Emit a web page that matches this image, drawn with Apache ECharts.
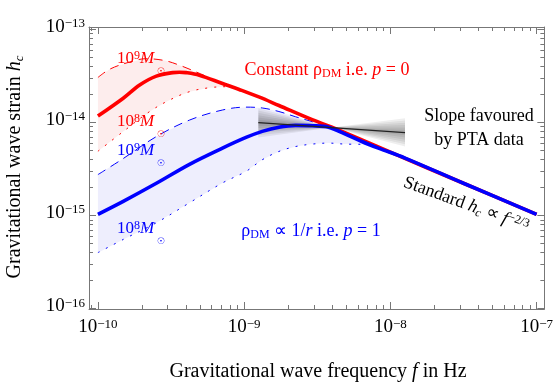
<!DOCTYPE html>
<html>
<head>
<meta charset="utf-8">
<script src="https://cdn.jsdelivr.net/npm/echarts@6/dist/echarts.min.js"></script>
<style>
  html, body { margin: 0; padding: 0; background: #fff; }
  #chart { width: 556px; height: 389px; }
</style>
</head>
<body>
<div id="chart"></div>
<script>
// values: frequency in Hz, characteristic strain h_c
var p0Freq   = [1.00e-10, 1.49e-10, 1.93e-10, 2.51e-10, 3.25e-10, 3.61e-10, 4.01e-10, 4.94e-10, 7.11e-10, 9.25e-10, 1.26e-9, 1.73e-9, 2.92e-9, 3.98e-9, 1.00e-8, 3.16e-8, 1.00e-7];
var p0Strain = [1.17e-14, 1.82e-14, 2.52e-14, 3.14e-14, 3.43e-14, 3.46e-14, 3.43e-14, 3.22e-14, 2.62e-14, 2.26e-14, 1.88e-14, 1.52e-14, 1.07e-14, 8.89e-15, 4.79e-15, 2.22e-15, 1.03e-15];
var p0UpFreq    = [1.00e-10, 1.20e-10, 1.58e-10, 2.14e-10, 2.86e-10, 3.61e-10, 4.69e-10, 5.62e-10];
var p0UpStrain  = [3.04e-14, 3.72e-14, 4.37e-14, 4.84e-14, 4.62e-14, 4.12e-14, 3.49e-14, 3.09e-14];
var p0LowFreq   = [1.00e-10, 1.49e-10, 2.26e-10, 3.09e-10, 4.23e-10, 5.78e-10, 7.52e-10, 1.12e-9];
var p0LowStrain = [4.90e-15, 7.98e-15, 1.31e-14, 1.74e-14, 2.14e-14, 2.36e-14, 2.42e-14, 2.00e-14];

var p1Freq   = [1.00e-10, 1.49e-10, 2.51e-10, 4.23e-10, 7.11e-10, 1.03e-9, 1.33e-9, 1.73e-9, 2.25e-9, 2.92e-9, 3.78e-9, 4.92e-9, 6.38e-9, 8.28e-9, 1.26e-8, 3.16e-8, 1.00e-7];
var p1Strain = [1.03e-15, 1.42e-15, 2.22e-15, 3.55e-15, 5.30e-15, 6.90e-15, 8.02e-15, 8.89e-15, 9.29e-15, 9.22e-15, 8.89e-15, 7.50e-15, 6.24e-15, 5.30e-15, 4.14e-15, 2.22e-15, 1.03e-15];
var p1UpFreq    = [1.00e-10, 1.45e-10, 2.51e-10, 4.23e-10, 7.11e-10, 1.03e-9, 1.33e-9, 1.73e-9, 2.25e-9, 2.92e-9, 3.60e-9];
var p1UpStrain  = [2.75e-15, 3.98e-15, 7.05e-15, 1.06e-14, 1.36e-14, 1.46e-14, 1.43e-14, 1.31e-14, 1.15e-14, 1.02e-14, 9.25e-15];
var p1LowFreq   = [1.00e-10, 1.49e-10, 2.51e-10, 4.23e-10, 7.11e-10, 1.03e-9, 1.33e-9, 1.73e-9, 2.25e-9, 2.92e-9, 3.78e-9, 4.92e-9, 7.08e-9];
var p1LowStrain = [3.99e-16, 5.53e-16, 8.36e-16, 1.37e-15, 2.24e-15, 2.98e-15, 3.97e-15, 4.88e-15, 5.51e-15, 5.85e-15, 6.00e-15, 5.85e-15, 5.82e-15];

// PTA slope: best fit line, pivot and the spread of the fan at both ends
var ptaFreq      = [1.25e-9, 1.26e-8];
var ptaStrain    = [9.95e-15, 7.78e-15];
var ptaPivot     = [3.99e-9, 8.80e-15];
var ptaTopStrain = [1.42e-14, 1.11e-14];
var ptaBotStrain = [6.87e-15, 5.51e-15];

var xTickExp = [-10, -9, -8, -7];
var yTickExp = [-16, -15, -14, -13];

var FONT = '"Liberation Serif", "Times New Roman", serif';
var RED = '#ff0000', BLUE = '#0000ff';
var xMin = Math.log10(8.69e-11), xMax = Math.log10(1.13e-7);
var yMin = Math.log10(0.99e-16), yMax = Math.log10(1.06e-13);

function pts(freq, strain) {
    return freq.map(function (f, i) { return [Math.log10(f), Math.log10(strain[i])]; });
}
function between(freq, strain, lo, hi) {
    return pts(freq, strain).filter(function (p) { return p[0] > Math.log10(lo) + 1e-9 && p[0] < Math.log10(hi) - 1e-9; });
}
function minorTicks(lo, hi) {
    var out = [];
    for (var n = Math.floor(lo) - 1; n <= Math.ceil(hi); n++)
        for (var k = 2; k <= 9; k++) {
            var v = n + Math.log10(k);
            if (v > lo && v < hi) out.push(v);
        }
    return out;
}
// rich text token style; sub tokens sit at the line bottom, others at the top
function rs(size, extra) {
    var o = { fontFamily: FONT, fontSize: size, lineHeight: size + 4, verticalAlign: 'top' };
    for (var k in extra) o[k] = extra[k];
    return o;
}
function textRich(size, color) {
    var lh = size + 1;
    return {
        n: rs(size, { lineHeight: lh, fill: color }),
        i: rs(size, { lineHeight: lh, fontStyle: 'italic', fill: color }),
        d: rs(Math.round(size * 0.67), { lineHeight: lh, verticalAlign: 'bottom', fill: color }),
        c: rs(Math.round(size * 0.67), { lineHeight: lh, verticalAlign: 'bottom', fontStyle: 'italic', fill: color }),
        s: rs(Math.round(size * 0.67), { lineHeight: 12, fill: color })
    };
}

var redUpper = pts(p0UpFreq, p0UpStrain).concat(between(p0Freq, p0Strain, 5.62e-10, 1.12e-9));
var redLower = pts(p0LowFreq, p0LowStrain);
var blueUpper = pts(p1UpFreq, p1UpStrain).concat(between(p1Freq, p1Strain, 3.60e-9, 7.08e-9));
var blueLower = pts(p1LowFreq, p1LowStrain);

function bandRender(upper, lower, color) {
    return function (params, api) {
        var poly = upper.concat(lower.slice().reverse()).map(function (p) { return api.coord(p); });
        return { type: 'polygon', shape: { points: poly }, style: { fill: color }, silent: true };
    };
}

var fanLayers = [1, 0.84, 0.68, 0.52, 0.36, 0.2];
function fanRender(params, api) {
    var x0 = Math.log10(ptaFreq[0]), x1 = Math.log10(ptaFreq[1]);
    var l0 = Math.log10(ptaStrain[0]), l1 = Math.log10(ptaStrain[1]);
    var px = Math.log10(ptaPivot[0]), py = Math.log10(ptaPivot[1]);
    var t0 = Math.log10(ptaTopStrain[0]), t1 = Math.log10(ptaTopStrain[1]);
    var b0 = Math.log10(ptaBotStrain[0]), b1 = Math.log10(ptaBotStrain[1]);
    return {
        type: 'group',
        children: fanLayers.map(function (s) {
            var poly = [[x0, l0 + s * (t0 - l0)], [px, py], [x1, l1 + s * (t1 - l1)],
                        [x1, l1 + s * (b1 - l1)], [px, py], [x0, l0 + s * (b0 - l0)]];
            return { type: 'polygon', shape: { points: poly.map(function (p) { return api.coord(p); }) },
                     style: { fill: 'rgba(0,0,0,0.065)' }, silent: true };
        })
    };
}

var tickLabel = {
    customValues: null, margin: 4,
    formatter: function (v) { return '{b|10}{s|\u2212' + Math.round(-v) + '}'; },
    rich: { b: rs(19, { lineHeight: 24, color: '#000' }), s: rs(13, { lineHeight: 12, color: '#000' }) }
};
function axis(pos, lo, hi, ticks, len, major, label) {
    return {
        type: 'value', position: pos, min: lo, max: hi,
        axisLine: { show: major, onZero: false, lineStyle: { color: '#777', width: 1 } },
        axisTick: { show: true, inside: true, length: len, customValues: ticks, lineStyle: { color: '#777', width: 1 } },
        axisLabel: label || { show: false },
        splitLine: { show: false }
    };
}
var xLabel = Object.assign({}, tickLabel, { customValues: xTickExp, margin: 9 });
var yLabel = Object.assign({}, tickLabel, { customValues: yTickExp, margin: 4 });

function line(data, color, width, type) {
    return { type: 'line', data: data, smooth: 0.35, showSymbol: false, symbol: 'none', silent: true,
             lineStyle: { color: color, width: width, type: type || 'solid' } };
}
function massLabel(x, y, exp, color) {
    return [
        { type: 'text', x: x, y: y, z: 100, style: { text: '{b|10}{s|' + exp + '}{m|M}', fill: color,
            rich: { b: rs(17, { lineHeight: 20, fill: color }), s: rs(12, { lineHeight: 12, fill: color }),
                    m: rs(17, { lineHeight: 20, fontStyle: 'italic', fill: color }) } } },
        { type: 'text', x: x + 44, y: y + 22, z: 100, style: { text: '\u2609', fill: color, font: '9px "DejaVu Sans"', align: 'center', verticalAlign: 'middle' } }
    ];
}

var chart = echarts.init(document.getElementById('chart'));
chart.setOption({
    animation: false,
    grid: { left: 89, right: 9, top: 27, bottom: 80 },
    xAxis: [
        axis('bottom', xMin, xMax, xTickExp, 7, true, xLabel),
        axis('bottom', xMin, xMax, minorTicks(xMin, xMax), 4, false),
        axis('top', xMin, xMax, xTickExp, 7, true),
        axis('top', xMin, xMax, minorTicks(xMin, xMax), 4, false)
    ],
    yAxis: [
        axis('left', yMin, yMax, yTickExp, 7, true, yLabel),
        axis('left', yMin, yMax, minorTicks(yMin, yMax), 4, false),
        axis('right', yMin, yMax, yTickExp, 7, true),
        axis('right', yMin, yMax, minorTicks(yMin, yMax), 4, false)
    ],
    series: [
        { type: 'custom', renderItem: bandRender(redUpper, redLower, '#fdeded'), data: [[-10, -14]], silent: true },
        { type: 'custom', renderItem: bandRender(blueUpper, blueLower, '#eeeefd'), data: [[-10, -15]], silent: true },
        line(pts(p0UpFreq, p0UpStrain), RED, 1, [9, 6]),
        line(pts(p0LowFreq, p0LowStrain), RED, 1, [2, 7]),
        line(pts(p1UpFreq, p1UpStrain), BLUE, 1, [9, 6]),
        line(pts(p1LowFreq, p1LowStrain), BLUE, 1, [2, 7]),
        line(pts(p0Freq, p0Strain), RED, 3.6),
        line(pts(p1Freq, p1Strain), BLUE, 3.6),
        { type: 'custom', renderItem: fanRender, data: [[-8.4, -14]], silent: true },
        { type: 'line', data: pts(ptaFreq, ptaStrain), showSymbol: false, symbol: 'none', silent: true,
          lineStyle: { color: '#222', width: 1.2 } }
    ],
    graphic: [
        { type: 'text', x: 318, y: 362, z: 100, style: { text: '{n|Gravitational wave frequency }{i|f}{n| in Hz}', align: 'center', verticalAlign: 'top',
            rich: textRich(20, '#000') } },
        { type: 'text', x: 5, y: 167, rotation: Math.PI / 2, z: 100, style: { text: '{n|Gravitational wave strain }{i|h}{c|c}', align: 'center', verticalAlign: 'top',
            rich: textRich(20, '#000') } }
    ].concat(
        massLabel(117, 50, 9, RED), massLabel(117, 113, 8, RED),
        massLabel(117, 142, 9, BLUE), massLabel(117, 220, 8, BLUE),
        [
            { type: 'text', x: 327, y: 61, z: 100, style: { text: '{n|Constant \u03c1}{d|DM}{n| i.e. }{i|p}{n| = 0}', align: 'center', verticalAlign: 'top',
                rich: textRich(18, RED) } },
            { type: 'text', x: 311, y: 222, z: 100, style: { text: '{n|\u03c1}{d|DM}{n| \u221d 1/}{i|r}{n| i.e. }{i|p}{n| = 1}', align: 'center', verticalAlign: 'top',
                rich: textRich(18, BLUE) } },
            { type: 'text', x: 479, y: 116, z: 100, style: { text: 'Slope favoured', align: 'center', verticalAlign: 'middle', fill: '#000', font: '18px ' + FONT } },
            { type: 'text', x: 479, y: 140, z: 100, style: { text: 'by PTA data', align: 'center', verticalAlign: 'middle', fill: '#000', font: '18px ' + FONT } },
            { type: 'text', x: 466, y: 205, rotation: -20 * Math.PI / 180, z: 100, style: { text: '{n|Standard }{i|h}{c|c}{n| \u221d }{i|f}{s|\u22122/3}', align: 'center', verticalAlign: 'middle',
                rich: textRich(18, '#000') } }
        ])
});
</script>
</body>
</html>
